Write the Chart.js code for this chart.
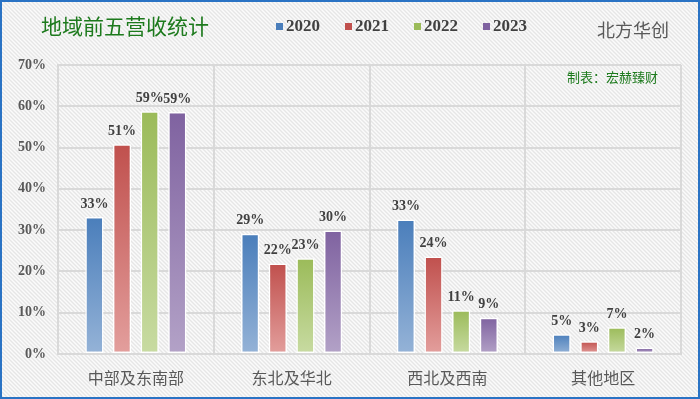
<!DOCTYPE html>
<html>
<head>
<meta charset="utf-8">
<script src="https://cdn.jsdelivr.net/npm/chart.js@4.4.0/dist/chart.umd.min.js"></script>
<style>
  html, body { margin: 0; padding: 0; background: #fff; }
  #wrap { width: 700px; height: 399px; }
</style>
</head>
<body>
<div id="wrap"><canvas id="chart"></canvas></div>
<script>
// data
const regions = ['中部及东南部', '东北及华北', '西北及西南', '其他地区'];
const years = ['2020', '2021', '2022', '2023'];
const v2020 = [33.2, 29.1, 32.6, 4.8];
const v2021 = [50.8, 21.9, 23.6, 3.1];
const v2022 = [58.8, 23.2, 10.6, 6.5];
const v2023 = [58.6, 29.9, 8.8, 1.6];
const yTicks = [0, 10, 20, 30, 40, 50, 60, 70];

const topColors = ['#4a7ebb', '#c0504d', '#9bbb59', '#7f62a0'];
const bottomColors = ['#95b3d7', '#e39f9d', '#c8dba2', '#b3a2c7'];

const serif = '"Liberation Serif", "DejaVu Serif", serif';
const cjk = '"Noto Sans CJK SC", "Noto Sans", sans-serif';

// light diagonal hatch used for the background
function makeHatch() {
    const c = document.createElement('canvas');
    c.width = 4; c.height = 4;
    const g = c.getContext('2d');
    g.fillStyle = '#e6e6e6';
    g.fillRect(0, 0, 4, 4);
    g.strokeStyle = '#fbfbfb';
    g.lineWidth = 1.4;
    g.beginPath();
    g.moveTo(-1, -1); g.lineTo(5, 5);
    g.moveTo(-1, 3); g.lineTo(1, 5);
    g.moveTo(3, -1); g.lineTo(5, 1);
    g.stroke();
    return g.createPattern(c, 'repeat');
}

function barGradient(i) {
    return (ctx) => {
        const chart = ctx.chart;
        const y = chart.scales.y;
        if (!y || ctx.raw == null) return topColors[i];
        const top = y.getPixelForValue(ctx.raw);
        const base = y.getPixelForValue(0);
        if (!isFinite(top) || !isFinite(base) || top === base) return topColors[i];
        const gr = chart.ctx.createLinearGradient(0, top, 0, base);
        gr.addColorStop(0, topColors[i]);
        gr.addColorStop(1, bottomColors[i]);
        return gr;
    };
}

const backdrop = {
    id: 'backdrop',
    beforeDraw(chart) {
        const c = chart.ctx;
        c.save();
        c.fillStyle = makeHatch();
        c.fillRect(0, 0, chart.width, chart.height);
        c.restore();
    },
    afterDraw(chart) {
        const c = chart.ctx;
        c.save();
        // frame
        c.strokeStyle = '#2a73c4';
        c.lineWidth = 2;
        c.strokeRect(1, 1, chart.width - 2, chart.height - 2);

        // title
        c.textBaseline = 'middle';
        c.fillStyle = '#1d7a1d';
        c.font = '21px ' + cjk;
        c.textAlign = 'left';
        c.fillText('地域前五营收统计', 41, 26);

        // legend
        const xs = [276, 345, 414, 483];
        chart.data.datasets.forEach((ds, i) => {
            c.fillStyle = topColors[i];
            c.fillRect(xs[i], 23, 7, 7);
            c.fillStyle = '#404040';
            c.font = 'bold 17px ' + serif;
            c.fillText(ds.label, xs[i] + 10, 27);
        });

        c.fillStyle = '#595959';
        c.font = '18px ' + cjk;
        c.fillText('北方华创', 597, 30);

        c.fillStyle = '#1d7a1d';
        c.font = '13px ' + cjk;
        c.fillText('制表：宏赫臻财', 567, 77);

        // value labels above bars
        c.fillStyle = '#404040';
        c.font = 'bold 14px ' + serif;
        c.textAlign = 'center';
        c.textBaseline = 'bottom';
        chart.data.datasets.forEach((ds, i) => {
            chart.getDatasetMeta(i).data.forEach((bar, j) => {
                c.fillText(Math.round(ds.data[j]) + '%', bar.x, bar.y - 6);
            });
        });
        c.restore();
    }
};

const datasets = [v2020, v2021, v2022, v2023].map((vals, i) => ({
    label: years[i],
    data: vals,
    backgroundColor: barGradient(i),
    borderColor: '#ffffff',
    borderWidth: 1.5,
    borderSkipped: false
}));

new Chart(document.getElementById('chart'), {
    type: 'bar',
    data: { labels: regions, datasets: datasets },
    plugins: [backdrop],
    options: {
        responsive: true,
        maintainAspectRatio: false,
        animation: false,
        layout: { padding: { top: 65, right: 19, bottom: 0, left: 0 } },
        datasets: { bar: { categoryPercentage: 0.71, barPercentage: 0.66 } },
        plugins: { legend: { display: false }, tooltip: { enabled: false } },
        scales: {
            x: {
                grid: { color: '#d9d9d9', lineWidth: 2, drawTicks: false },
                border: { color: '#d9d9d9', width: 2 },
                ticks: { color: '#595959', font: { family: cjk, size: 16 }, padding: 14 },
                afterFit(s) { s.height = 45; }
            },
            y: {
                min: 0, max: 70,
                afterBuildTicks(s) { s.ticks = yTicks.map(v => ({ value: v })); },
                grid: { color: '#d9d9d9', lineWidth: 2, drawTicks: false },
                border: { color: '#d9d9d9', width: 2 },
                ticks: {
                    color: '#595959',
                    font: { family: serif, size: 14, weight: 'bold' },
                    padding: 12,
                    callback: v => v + '%'
                },
                afterFit(s) { s.width = 58; }
            }
        }
    }
});
</script>
</body>
</html>
